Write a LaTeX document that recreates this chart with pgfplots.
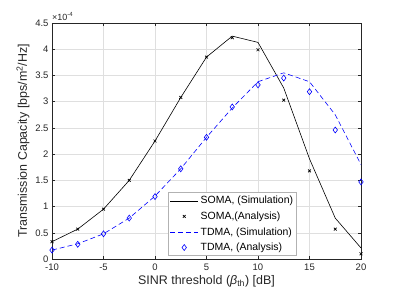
\documentclass[border=0pt]{standalone}
\usepackage{pgfplots}
\pgfplotsset{compat=1.18}
\usepackage{fontspec}
\setmainfont{Liberation Sans}
\definecolor{axgray}{rgb}{0.15,0.15,0.15}
\definecolor{mblue}{rgb}{0,0,1}
\begin{document}
\begin{tikzpicture}[x=1bp,y=1bp]
\useasboundingbox (-52bp,-40bp) rectangle (347bp,259bp);
\begin{axis}[
  at={(0,0)}, anchor=south west,
  scale only axis, width=309bp, height=236bp,
  xmin=-10, xmax=20, ymin=0, ymax=4.5,
  xtick={-10,-5,0,5,10,15,20},
  ytick={0,0.5,1,1.5,2,2.5,3,3.5,4,4.5},
  yticklabels={0,0.5,1,1.5,2,2.5,3,3.5,4,4.5},
  xticklabels={-10,-5,0,5,10,15,20},
  grid=major,
  grid style={line width=0.4pt, draw=gray!25},
  axis line style={axgray, line width=0.5pt},
  tick style={axgray, line width=0.5pt},
  tick align=inside, major tick length=3bp,
  tick label style={font=\fontsize{9.5}{11}\selectfont, text=axgray},
  xticklabel style={yshift=-1bp},
  xlabel={SINR threshold ({\itshape β}\textsubscript{th}) [dB]},
  ylabel={Transmission Capacity [bps/m\textsuperscript{2}/Hz]},
  label style={font=\fontsize{12.5}{14}\selectfont, text=axgray},
  xlabel style={yshift=2bp},
  ylabel style={yshift=-1bp},
  legend style={at={(rel axis cs:0.375,0.013)}, anchor=south west,
    font=\fontsize{10.5}{12}\selectfont, draw=gray!60, line width=0.8pt,
    inner sep=1.5pt, row sep=2.5pt, cells={anchor=west}},
  legend image code/.code={\draw[mark repeat=2,mark phase=2] plot coordinates {(0cm,0cm) (0.5cm,0cm) (1cm,0cm)};},
  legend cell align=left,
  clip=false,
]
\addplot[black, line width=0.6pt] coordinates {
(-10,0.33) (-7.5,0.57) (-5,0.95) (-2.5,1.5) (0,2.25) (2.5,3.08) (5,3.85) (7.5,4.25) (10,4.13) (12.5,3.26) (15,1.91) (17.5,0.78) (20,0.21)};
\addlegendentry{SOMA, (Simulation)}
\addplot[black, only marks, mark=x, mark size=2pt, line width=0.7pt] coordinates {
(-10,0.33) (-7.5,0.57) (-5,0.95) (-2.5,1.5) (0,2.25) (2.5,3.08) (5,3.85) (7.5,4.22) (10,3.99) (12.5,3.03) (15,1.68) (17.5,0.57) (20,0.1)};
\addlegendentry{SOMA,(Analysis)}
\addplot[mblue, dashed, line width=0.6pt, dash pattern=on 5bp off 3bp] coordinates {
(-10,0.17) (-7.5,0.29) (-5,0.48) (-2.5,0.78) (0,1.2) (2.5,1.72) (5,2.32) (7.5,2.88) (10,3.38) (12.5,3.55) (15,3.38) (17.5,2.75) (20,1.8)};
\addlegendentry{TDMA, (Simulation)}
\addplot[mblue, only marks, mark=diamond, mark size=3pt, line width=0.6pt] coordinates {
(-10,0.17) (-7.5,0.28) (-5,0.48) (-2.5,0.78) (0,1.19) (2.5,1.72) (5,2.32) (7.5,2.9) (10,3.32) (12.5,3.45) (15,3.19) (17.5,2.46) (20,1.47)};
\addlegendentry{TDMA, (Analysis)}
\node[anchor=south west, font=\fontsize{9}{10}\selectfont, text=axgray, inner sep=0pt] at (rel axis cs:0,1.01) {×10\textsuperscript{-4}};
\end{axis}
\end{tikzpicture}
\end{document}
